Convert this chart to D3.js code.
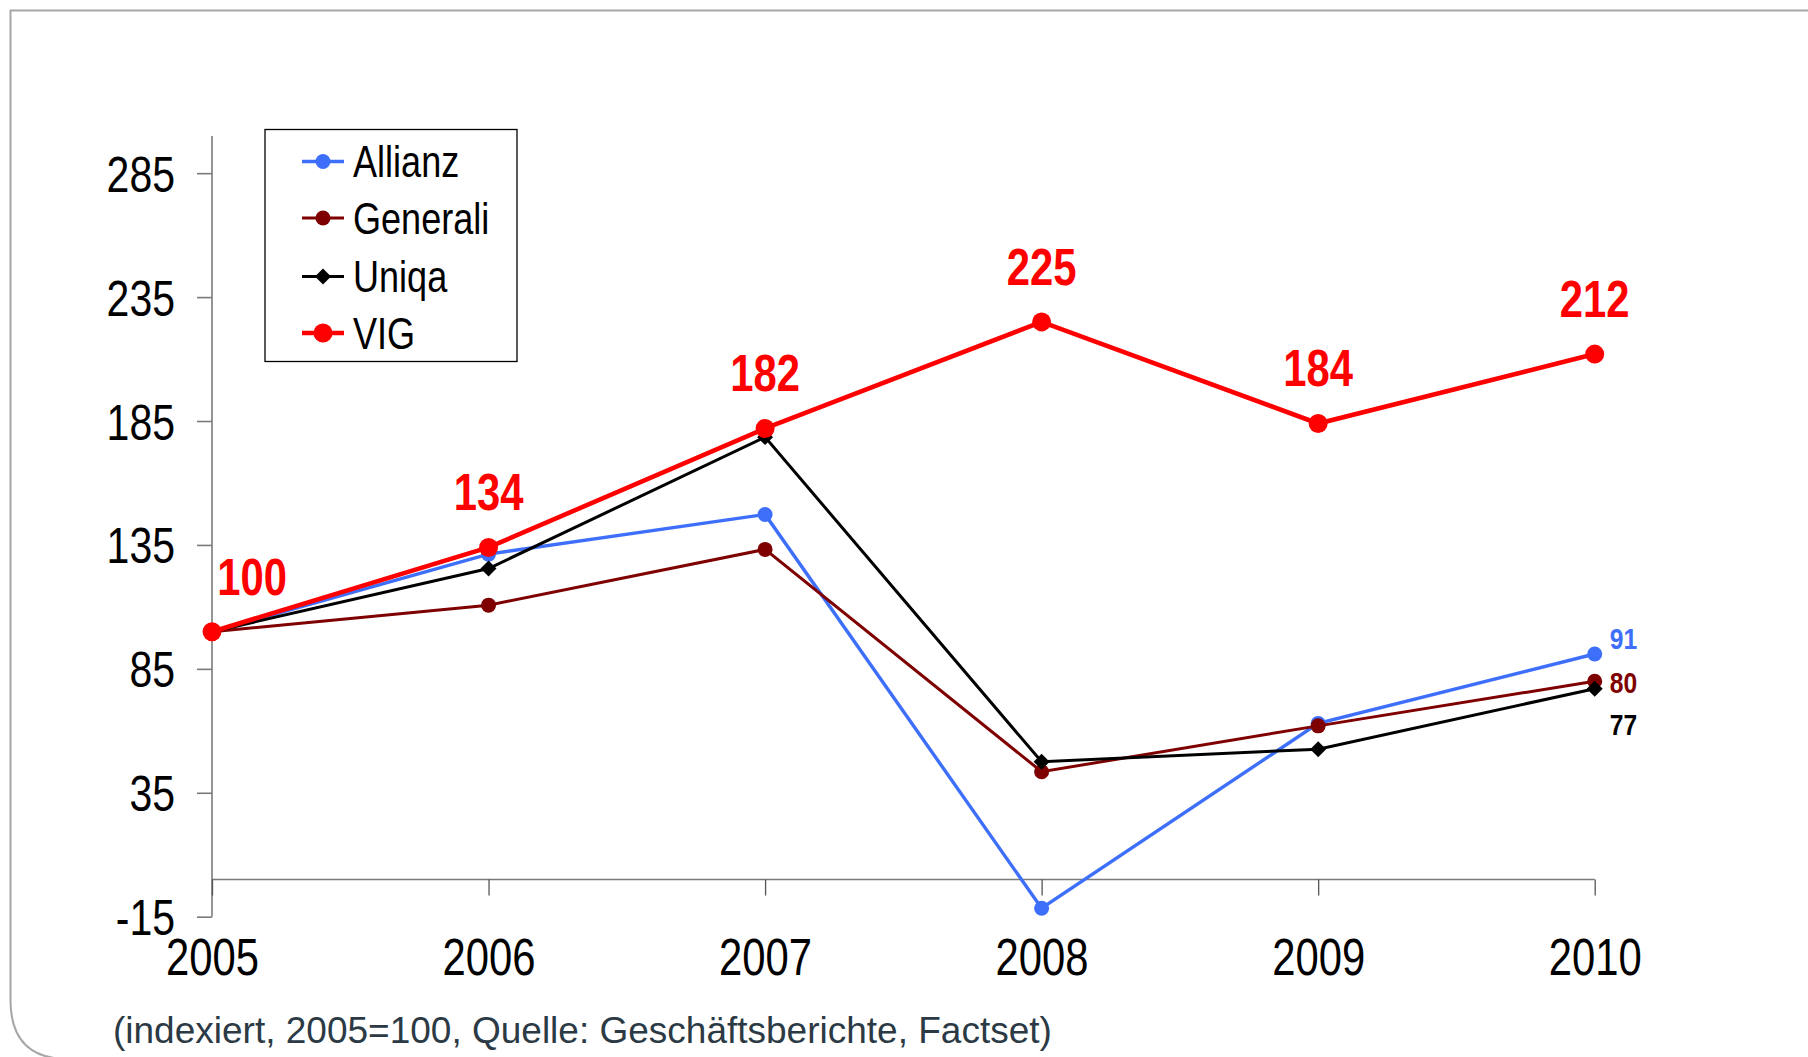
<!DOCTYPE html>
<html>
<head>
<meta charset="utf-8">
<script src="https://cdn.jsdelivr.net/npm/d3@7"></script>
<style>
  html, body { margin: 0; padding: 0; background: #fff; }
  svg { display: block; }
</style>
</head>
<body>
<svg id="chart" width="1808" height="1057"></svg>
<script>
// ---------- data ----------
const years = [2005, 2006, 2007, 2008, 2009, 2010];
const seriesNames = ["Allianz", "Generali", "Uniqa", "VIG"];
const allianz  = [100, 131.3, 147.3, -11.6, 63, 91];
const generali = [100, 110.7, 133.2, 43.5, 62, 80];
const uniqa    = [100, 125.5, 178.5, 47.5, 52.6, 77];
const vig      = [100, 134, 182, 225, 184, 212];
const yTickValues = [-15, 35, 85, 135, 185, 235, 285];
const footnote = "(indexiert, 2005=100, Quelle: Geschäftsberichte, Factset)";

// ---------- styles ----------
const SANS = "'Liberation Sans',Arial,sans-serif";
const NARROW_SCALE = 0.82; // emulate Arial Narrow
const styles = {
  Allianz:  { color: "#3d6ffa", width: 3.4, marker: "circle",  r: 7.5 },
  Generali: { color: "#7f0000", width: 3,   marker: "circle",  r: 7.5 },
  Uniqa:    { color: "#000000", width: 3,   marker: "diamond", r: 9 },
  VIG:      { color: "#ff0000", width: 4.6, marker: "circle",  r: 9.5 }
};
const values = { Allianz: allianz, Generali: generali, Uniqa: uniqa, VIG: vig };

const svg = d3.select("#chart");

function narrow(sel, tx, ty) {
  sel.attr("x", 0).attr("y", 0)
    .attr("transform", `translate(${tx},${ty}) scale(${NARROW_SCALE},1)`)
    .attr("font-family", SANS);
}

// frame (square top-left, rounded bottom-left, extends past right/bottom)
svg.append("path")
  .attr("d", "M1820,10.5 L10.5,10.5 L10.5,1000 Q10.5,1059 68,1059 L1820,1059")
  .attr("fill", "none").attr("stroke", "#a6a6a6").attr("stroke-width", 2);

const x = d3.scaleLinear().domain([2005, 2010]).range([212, 1594.7]);
const y = d3.scaleLinear().domain([-15, 300]).range([916.7, 136]);

// y axis
const yAxis = svg.append("g")
  .attr("transform", `translate(${x(2005)},0)`)
  .call(d3.axisLeft(y).tickValues(yTickValues).tickSize(15).tickFormat(d => String(d)));
yAxis.select(".domain").attr("stroke", "#7a7a7a").attr("stroke-width", 1.6)
  .attr("d", `M0,${y(300)}V${y(-15)}`);
yAxis.selectAll(".tick line").attr("stroke", "#7a7a7a").attr("stroke-width", 1.6);
yAxis.selectAll(".tick text").call(narrow, -37, 0)
  .attr("font-size", 50).attr("fill", "#000").attr("dy", "0.36em").attr("text-anchor", "end");

// x axis at y = 0
const xAxis = svg.append("g")
  .attr("transform", `translate(0,${y(0)})`)
  .call(d3.axisBottom(x).tickValues(years).tickSize(16).tickFormat(d => String(d)));
xAxis.select(".domain").attr("stroke", "#7a7a7a").attr("stroke-width", 1.6)
  .attr("d", `M${x(2005)},0H${x(2010)}`);
xAxis.selectAll(".tick line").attr("stroke", "#555").attr("stroke-width", 1.3);
xAxis.selectAll(".tick text").call(narrow, 0, 95)
  .attr("font-size", 51).attr("fill", "#000").attr("dy", 0).attr("text-anchor", "middle");

// lines + markers
const line = d3.line().x((d, i) => x(years[i])).y(d => y(d));
const diamond = d3.symbol().type(d3.symbolDiamond2);

seriesNames.forEach(name => {
  const s = styles[name];
  const g = svg.append("g");
  g.append("path").datum(values[name])
    .attr("d", line).attr("fill", "none")
    .attr("stroke", s.color).attr("stroke-width", s.width).attr("stroke-linejoin", "miter");
  values[name].forEach((v, i) => {
    if (s.marker === "circle") {
      g.append("circle").attr("cx", x(years[i])).attr("cy", y(v)).attr("r", s.r).attr("fill", s.color);
    } else {
      g.append("path").attr("d", diamond.size(s.r * s.r * 2)())
        .attr("transform", `translate(${x(years[i])},${y(v)})`).attr("fill", s.color);
    }
  });
});

// VIG labels
const vigLabelDx = [40, 0, 0, 0, 0, 0];
svg.append("g").selectAll("text").data(vig).join("text")
  .each(function (d, i) {
    d3.select(this).call(narrow, x(years[i]) + vigLabelDx[i], y(d) - 37);
  })
  .attr("text-anchor", "middle")
  .attr("font-weight", "bold").attr("font-size", 51)
  .attr("fill", styles.VIG.color)
  .text(d => d);

// end labels for others
const endLabels = [
  { name: "Allianz",  dy: -5 },
  { name: "Generali", dy: 12 },
  { name: "Uniqa",    dy: 46 }
];
endLabels.forEach(l => {
  const v = values[l.name][years.length - 1];
  svg.append("text")
    .call(narrow, x(2010) + 15, y(v) + l.dy)
    .attr("font-weight", "bold").attr("font-size", 30)
    .attr("fill", styles[l.name].color)
    .text(v);
});

// legend
const leg = svg.append("g");
leg.append("rect").attr("x", 265).attr("y", 129.5).attr("width", 252).attr("height", 232)
  .attr("fill", "#fff").attr("stroke", "#000").attr("stroke-width", 1.3);
const legY = [161.5, 218, 276.5, 333];
seriesNames.forEach((name, i) => {
  const s = styles[name];
  const cy = legY[i];
  leg.append("line").attr("x1", 302).attr("x2", 344).attr("y1", cy).attr("y2", cy)
    .attr("stroke", s.color).attr("stroke-width", s.width);
  if (s.marker === "circle") {
    leg.append("circle").attr("cx", 323).attr("cy", cy).attr("r", s.r).attr("fill", s.color);
  } else {
    leg.append("path").attr("d", diamond.size(s.r * s.r * 2)())
      .attr("transform", `translate(323,${cy})`).attr("fill", s.color);
  }
  leg.append("text").call(narrow, 353, cy).attr("dy", "0.36em")
    .attr("font-size", 44).attr("fill", "#000").text(name);
});

// footnote
svg.append("text").attr("x", 113).attr("y", 1043)
  .attr("font-family", SANS).attr("font-size", 37).attr("fill", "#2b3a44")
  .text(footnote);
</script>
</body>
</html>
